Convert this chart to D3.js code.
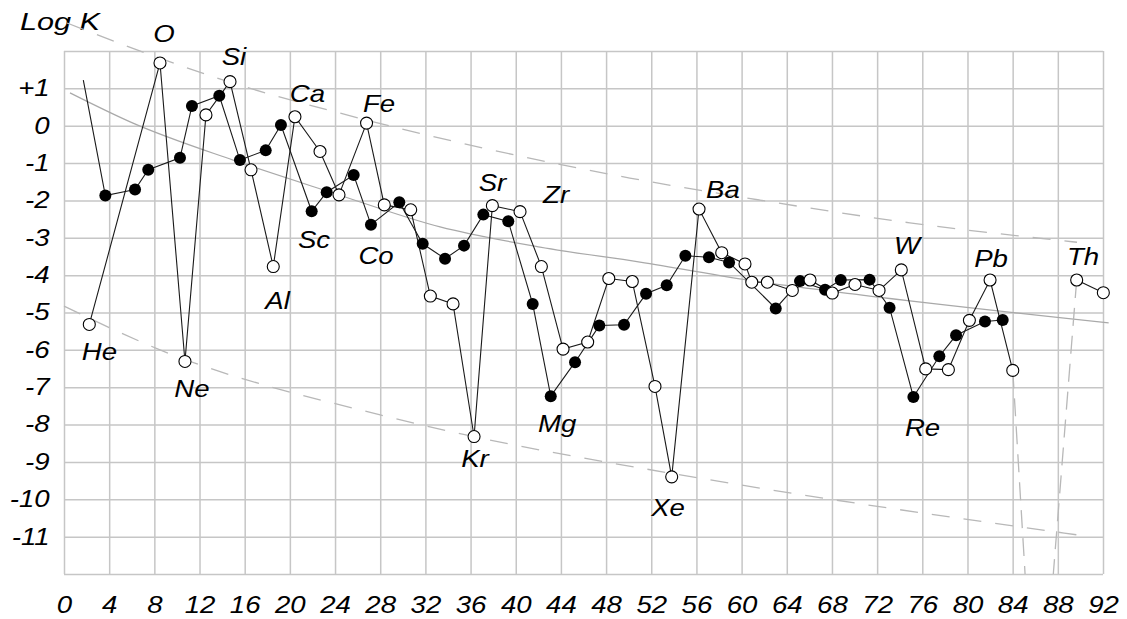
<!DOCTYPE html>
<html>
<head>
<meta charset="utf-8">
<script src="https://cdn.jsdelivr.net/npm/d3@7"></script>
<style>
body { margin: 0; background: #fff; }
text { font-family: "Liberation Sans", Arial, sans-serif; font-style: italic; }
</style>
</head>
<body>
<div id="chart"></div>
<script>
// axis ticks
var xTicks = d3.range(0, 93, 4);
var yTicks = d3.range(2, -13, -1);

// [Z, log K]
// filled circles (first point is the line start, drawn without a marker)
var blackSeries = [
	[1.71, 1.22], [3.66, -1.87], [6.29, -1.71], [7.46, -1.18], [10.27, -0.86],
	[11.33, 0.53], [13.75, 0.80], [15.58, -0.92], [17.86, -0.66], [19.21, 0.02],
	[21.93, -2.29], [23.26, -1.78], [25.65, -1.32], [27.18, -2.65], [29.69, -2.05],
	[31.76, -3.16], [33.74, -3.56], [35.42, -3.21], [37.13, -2.38], [39.34, -2.56],
	[41.50, -4.77], [43.10, -7.24], [45.25, -6.33], [47.40, -5.35], [49.59, -5.33],
	[51.54, -4.50], [53.37, -4.27], [55.02, -3.48], [57.11, -3.52], [58.89, -3.66],
	[63.02, -4.89], [65.17, -4.16], [67.39, -4.39], [68.78, -4.13], [71.33, -4.12],
	[73.10, -4.87], [75.21, -7.26], [77.51, -6.17], [78.99, -5.61], [81.55, -5.24],
	[83.12, -5.20]
];

// open circles, up to Z = 84
var whiteSeries = [
	[2.24, -5.32], [8.50, 1.68], [10.71, -6.31], [12.57, 0.29], [14.70, 1.18],
	[16.56, -1.18], [18.53, -3.77], [20.45, 0.24], [22.67, -0.69], [24.35, -1.85],
	[26.79, 0.07], [28.36, -2.12], [30.70, -2.25], [32.44, -4.56], [34.45, -4.77],
	[36.31, -8.32], [37.93, -2.14], [40.38, -2.30], [42.27, -3.77], [44.19, -5.98],
	[46.37, -5.79], [48.24, -4.09], [50.32, -4.17], [52.33, -6.98], [53.81, -9.40],
	[56.23, -2.23], [58.24, -3.40], [60.30, -3.70], [60.90, -4.19], [62.28, -4.19],
	[64.49, -4.41], [66.06, -4.13], [68.03, -4.48], [70.04, -4.25], [72.17, -4.41],
	[74.14, -3.86], [76.30, -6.51], [78.31, -6.53], [80.17, -5.21], [82.00, -4.13],
	[84.01, -6.55]
];

// open circles after the gap
var whiteTail = [[89.67, -4.13], [92.03, -4.47]];

// drops towards the bottom edge
var dropLines = [
	[[84.01, -6.55], [85.10, -12.0]],
	[[89.67, -4.13], [87.60, -12.0]]
];

// grey trend curve and envelope
var trendCurve = [
	[0.53, 0.88], [6.11, 0.07], [14.97, -0.92], [23.82, -1.80], [33.3, -2.71],
	[42.15, -3.25], [51.0, -3.65], [61.6, -4.18], [70.5, -4.53], [92.5, -5.28]
];
var upperEnvelope = [
	[0.27, 2.75], [7.0, 1.97], [14.96, 1.14], [24.4, 0.34], [50.1, -1.40],
	[61.6, -1.99], [74.9, -2.60], [89.7, -3.12]
];
var lowerEnvelope = [
	[0, -4.83], [8.5, -6.0], [28.0, -7.74], [32.4, -8.06], [57.2, -9.48],
	[61.6, -9.70], [90.85, -11.0]
];

// element labels: name, Z, log K of the text baseline centre
var labels = [
	["O", 8.86, 2.24], ["Si", 15.05, 1.62], ["Ca", 21.56, 0.63], ["Fe", 27.89, 0.37],
	["Sc", 22.14, -3.27], ["Co", 27.63, -3.70], ["Al", 18.91, -4.91], ["He", 3.14, -6.27],
	["Ne", 11.33, -7.26], ["Sr", 37.94, -1.75], ["Zr", 43.57, -2.07], ["Kr", 36.39, -9.13],
	["Mg", 43.66, -8.20], ["Xe", 53.49, -10.45], ["Ba", 58.35, -1.94], ["W", 74.65, -3.43],
	["Pb", 82.09, -3.78], ["Th", 90.23, -3.73], ["Re", 76.02, -8.31]
];

var width = 1127, height = 619;
var plotLeft = 64, plotRight = 1103, plotTop = 51, plotBottom = 574;
var fontSize = 23, stretch = "scale(1.2,1)";

var svg = d3.select("#chart").append("svg")
	.attr("width", width)
	.attr("height", height);

var x = d3.scaleLinear().domain([0, 92]).range([plotLeft, plotRight]);
var y = d3.scaleLinear().domain([2, -12]).range([plotTop, plotBottom]);

// grid + tick labels
var xAxis = d3.axisBottom(x)
	.tickValues(xTicks)
	.tickSize(-(plotBottom - plotTop))
	.tickPadding(23)
	.tickFormat(function(d) { return String(d); });

var gx = svg.append("g")
	.attr("transform", "translate(0," + plotBottom + ")")
	.call(xAxis);

var yAxis = d3.axisLeft(y)
	.tickValues(yTicks)
	.tickSize(-(plotRight - plotLeft))
	.tickPadding(12)
	.tickFormat(function(d) {
		if (d === 2 || d === -12) return "";
		return d > 0 ? "+" + d : String(d);
	});

var gy = svg.append("g")
	.attr("transform", "translate(" + plotLeft + ",0)")
	.call(yAxis);

[gx, gy].forEach(function(g) {
	g.select(".domain").remove();
	g.selectAll(".tick line")
		.attr("stroke", "#c6c6c6")
		.attr("stroke-width", 1.5);
	g.selectAll(".tick text")
		.attr("fill", "#000")
		.attr("transform", stretch)
		.style("font-size", fontSize + "px")
		.style("font-family", "'Liberation Sans', Arial, sans-serif")
		.style("font-style", "italic");
});

svg.append("text")
	.text("Log K")
	.attr("x", 20)
	.attr("y", 30)
	.attr("textLength", 80)
	.attr("lengthAdjust", "spacingAndGlyphs")
	.style("font-size", fontSize + "px");

var line = d3.line()
	.x(function(d) { return x(d[0]); })
	.y(function(d) { return y(d[1]); });

var smooth = d3.line()
	.curve(d3.curveMonotoneX)
	.x(function(d) { return x(d[0]); })
	.y(function(d) { return y(d[1]); });

svg.append("path")
	.attr("d", smooth(trendCurve))
	.attr("fill", "none")
	.attr("stroke", "#a9a9a9")
	.attr("stroke-width", 1.2);

[upperEnvelope, lowerEnvelope].forEach(function(env) {
	svg.append("path")
		.attr("d", smooth(env))
		.attr("fill", "none")
		.attr("stroke", "#b8b8b8")
		.attr("stroke-width", 1.3)
		.attr("stroke-dasharray", "18,14");
});

dropLines.forEach(function(seg) {
	svg.append("path")
		.attr("d", line(seg))
		.attr("fill", "none")
		.attr("stroke", "#b8b8b8")
		.attr("stroke-width", 1.3)
		.attr("stroke-dasharray", "18,10");
});

[blackSeries, whiteSeries, whiteTail].forEach(function(s) {
	svg.append("path")
		.attr("d", line(s))
		.attr("fill", "none")
		.attr("stroke", "#1a1a1a")
		.attr("stroke-width", 1.1);
});

svg.selectAll("circle.black")
	.data(blackSeries.slice(1))
	.enter()
	.append("circle")
	.attr("class", "black")
	.attr("cx", function(d) { return x(d[0]); })
	.attr("cy", function(d) { return y(d[1]); })
	.attr("r", 6)
	.attr("fill", "#000");

svg.selectAll("circle.white")
	.data(whiteSeries.concat(whiteTail))
	.enter()
	.append("circle")
	.attr("class", "white")
	.attr("cx", function(d) { return x(d[0]); })
	.attr("cy", function(d) { return y(d[1]); })
	.attr("r", 6)
	.attr("fill", "#fff")
	.attr("stroke", "#000")
	.attr("stroke-width", 1.1);

svg.selectAll("g.label")
	.data(labels)
	.enter()
	.append("g")
	.attr("class", "label")
	.attr("transform", function(d) { return "translate(" + x(d[1]) + "," + y(d[2]) + ") " + stretch; })
	.append("text")
	.text(function(d) { return d[0]; })
	.attr("text-anchor", "middle")
	.style("font-size", fontSize + "px");
</script>
</body>
</html>
